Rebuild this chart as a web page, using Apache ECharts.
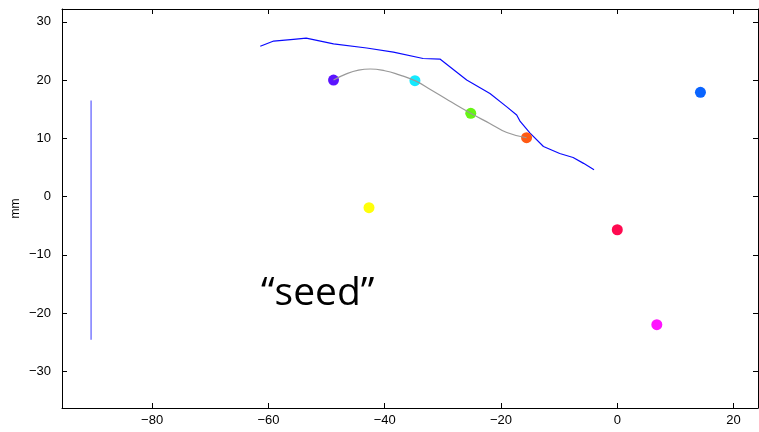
<!DOCTYPE html>
<html>
<head>
<meta charset="utf-8">
<script src="https://cdn.jsdelivr.net/npm/echarts@6/dist/echarts.min.js"></script>
<style>html,body{margin:0;padding:0;background:#fff}#c{width:759px;height:432px}</style>
</head>
<body>
<div id="c"></div>
<script>
var xTicks = [-80, -60, -40, -20, 0, 20];
var yTicks = [-30, -20, -10, 0, 10, 20, 30];
var xRange = [-95.5, 24.2];
var yRange = [-36.3, 32.2];

var dotX = [-48.8, -34.8, -25.2, -15.6, 14.3, 0.0, -42.7, 6.8];
var dotY = [20.0, 19.9, 14.3, 10.1, 17.9, -5.7, -1.9, -22.0];
var dotColors = ['#5b14ff', '#14eaff', '#66f514', '#ff5a14', '#0a64ff', '#ff0a50', '#ffff0a', '#ff14ff'];

var curveX = [-48.8, -46.5, -44.5, -42.5, -40, -37.5, -34.8, -32, -29, -25.2, -22, -19, -15.6];
var curveY = [20.0, 21.1, 21.7, 21.9, 21.6, 20.9, 19.9, 18.3, 16.5, 14.3, 12.6, 11.0, 10.1];

var pathX = [-61.4, -59.1, -55.7, -53.5, -48.8, -43.1, -38.5, -33.4, -30.5, -25.9, -21.9, -19.0, -17.3, -16.7, -15.0, -12.7, -9.9, -7.6, -5.8, -4.0];
var pathY = [25.8, 26.7, 27.0, 27.2, 26.2, 25.5, 24.8, 23.7, 23.6, 20.0, 17.7, 15.4, 14.0, 12.9, 10.9, 8.6, 7.4, 6.7, 5.7, 4.6];

var barX = [-90.5, -90.5];
var barY = [16.5, -24.6];

var annotation = '\u201cseed\u201d';
var yName = 'mm';

function zip(a, b) { return a.map(function (v, i) { return [v, b[i]]; }); }
function fmt(v) { return String(v).replace('-', '\u2212'); }

var chart = echarts.init(document.getElementById('c'));
var font = 'Liberation Sans, Helvetica, Arial, sans-serif';
function axisBase(extra) {
  return Object.assign({
    type: 'value',
    axisLine: { show: true, onZero: false, lineStyle: { color: '#000', width: 1 } },
    splitLine: { show: false },
    axisTick: { show: true, inside: true, length: 5, lineStyle: { color: '#000' } },
    axisLabel: { show: true, color: '#000', fontSize: 13, fontFamily: font }
  }, extra);
}
chart.setOption({
  animation: false,
  backgroundColor: '#fff',
  grid: { left: 62, right: 1, top: 9, bottom: 24, containLabel: false, outerBoundsMode: 'none' },
  xAxis: [
    axisBase({ position: 'bottom', min: xRange[0], max: xRange[1],
      axisTick: { show: true, inside: true, length: 5, lineStyle: { color: '#000' }, customValues: xTicks },
      axisLabel: { show: true, color: '#000', fontSize: 13, fontFamily: font, margin: 6, customValues: xTicks, formatter: fmt } }),
    axisBase({ position: 'top', min: xRange[0], max: xRange[1],
      axisTick: { show: true, inside: true, length: 5, lineStyle: { color: '#000' }, customValues: xTicks },
      axisLabel: { show: false } })
  ],
  yAxis: [
    axisBase({ position: 'left', min: yRange[0], max: yRange[1], name: yName, nameLocation: 'middle', nameGap: 40,
      nameMoveOverlap: false,
      nameTextStyle: { color: '#000', fontSize: 12, fontFamily: font },
      axisTick: { show: true, inside: true, length: 5, lineStyle: { color: '#000' }, customValues: yTicks },
      axisLabel: { show: true, color: '#000', fontSize: 13, fontFamily: font, margin: 11, customValues: yTicks, formatter: fmt } }),
    axisBase({ position: 'right', min: yRange[0], max: yRange[1],
      axisTick: { show: true, inside: true, length: 5, lineStyle: { color: '#000' }, customValues: yTicks },
      axisLabel: { show: false } })
  ],
  graphic: [{
    type: 'text', left: 261, top: 274, z: 100,
    style: { text: annotation, fill: '#000', font: '39px "Open Sans", Lato, sans-serif' }
  }],
  series: [
    { type: 'line', data: zip(barX, barY), showSymbol: false, symbol: 'none',
      lineStyle: { color: '#5a5aff', width: 1.2 }, z: 2 },
    { type: 'line', data: zip(pathX, pathY), showSymbol: false, symbol: 'none',
      lineStyle: { color: '#0a0aff', width: 1.2 }, z: 2 },
    { type: 'scatter', data: zip(dotX, dotY).map(function (p, i) {
        return { value: p, itemStyle: { color: dotColors[i], opacity: 1 } };
      }), symbolSize: 11, z: 3 },
    { type: 'line', data: zip(curveX, curveY), smooth: 0.5, showSymbol: false, symbol: 'none',
      lineStyle: { color: '#999', width: 1.2 }, z: 4 }
  ]
});
</script>
</body>
</html>
